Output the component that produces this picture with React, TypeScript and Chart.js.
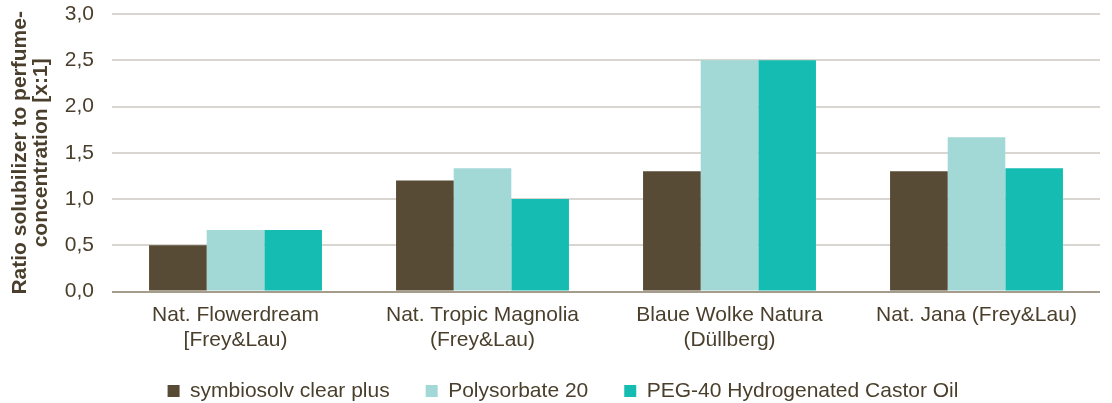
import React, { useEffect, useRef } from "react";
import { Chart, registerables } from "chart.js";

Chart.register(...registerables);

const categories: string[][] = [
  ["Nat. Flowerdream", "[Frey&Lau)"],
  ["Nat. Tropic Magnolia", "(Frey&Lau)"],
  ["Blaue Wolke Natura", "(Düllberg)"],
  ["Nat. Jana (Frey&Lau)"],
];
const symbiosolv = [0.5, 1.2, 1.3, 1.3];
const polysorbate = [0.667, 1.333, 2.5, 1.667];
const peg40 = [0.667, 1.0, 2.5, 1.333];
const seriesNames = ["symbiosolv clear plus", "Polysorbate 20", "PEG-40 Hydrogenated Castor Oil"];
const yTitle = ["Ratio solubilizer to perfume-", "concentration [x:1]"];

const TEXT = "#4A3F2C";
const FONT = "'Liberation Sans', Arial, sans-serif";
const LEGEND_PAD = 36;

const legendTweak = {
  id: "legendTweak",
  beforeUpdate(chart: any) {
    const lg = chart.legend;
    if (lg && !lg.__patched) {
      const orig = lg.fit.bind(lg);
      lg.fit = function () {
        orig();
        this.height -= 30;
      };
      lg.__patched = true;
    }
  },
  afterLayout(chart: any) {
    const lg = chart.legend;
    if (lg) {
      lg.top = 344.5;
      lg.bottom = chart.height;
      lg.height = chart.height - 344.5;
      lg.left += 8;
      lg.right += 8;
    }
  },
};

export default function App() {
  const ref = useRef<HTMLCanvasElement>(null);
  useEffect(() => {
    document.body.style.margin = "0";
    const chart = new Chart(ref.current!, {
      type: "bar",
      data: {
        labels: categories,
        datasets: [
          { label: seriesNames[0], data: symbiosolv, backgroundColor: "#574B35" },
          { label: seriesNames[1], data: polysorbate, backgroundColor: "#A2D9D6" },
          { label: seriesNames[2], data: peg40, backgroundColor: "#14BCB2" },
        ],
      },
      options: {
        animation: false,
        responsive: true,
        maintainAspectRatio: false,
        layout: { padding: { left: 10, right: 12, top: 0, bottom: 2 } },
        datasets: { bar: { categoryPercentage: 0.7, barPercentage: 1.0 } },
        scales: {
          x: {
            grid: { display: false, drawTicks: false },
            border: { display: false },
            ticks: { color: TEXT, font: { family: FONT, size: 21 }, maxRotation: 0, padding: 11 },
          },
          y: {
            min: 0,
            max: 3,
            afterFit: (s: any) => {
              s.width = 102;
              s.paddingTop = 14;
              s.paddingBottom = 14;
            },
            grid: {
              color: (ctx: any) => (ctx.tick && ctx.tick.value === 0 ? "#A59C8C" : "#D9D5D0"),
              lineWidth: 2,
              drawTicks: false,
            },
            border: { display: false },
            ticks: {
              stepSize: 0.5,
              color: TEXT,
              padding: 18,
              font: { family: FONT, size: 21 },
              callback: (v: any) => Number(v).toFixed(1).replace(".", ","),
            },
            title: {
              display: true,
              text: yTitle,
              color: TEXT,
              font: { family: FONT, size: 21, weight: "bold", lineHeight: 1.0 },
              padding: { top: 0, bottom: 0 },
            },
          },
        },
        plugins: {
          legend: {
            position: "bottom",
            labels: {
              color: TEXT,
              font: { family: FONT, size: 21 },
              boxWidth: 12,
              boxHeight: 12,
              padding: LEGEND_PAD,
            },
          },
          tooltip: { enabled: false },
        },
      },
      plugins: [legendTweak],
    });
    return () => chart.destroy();
  }, []);
  return (
    <div style={{ width: 1112, height: 403, position: "relative" }}>
      <canvas ref={ref} />
    </div>
  );
}
